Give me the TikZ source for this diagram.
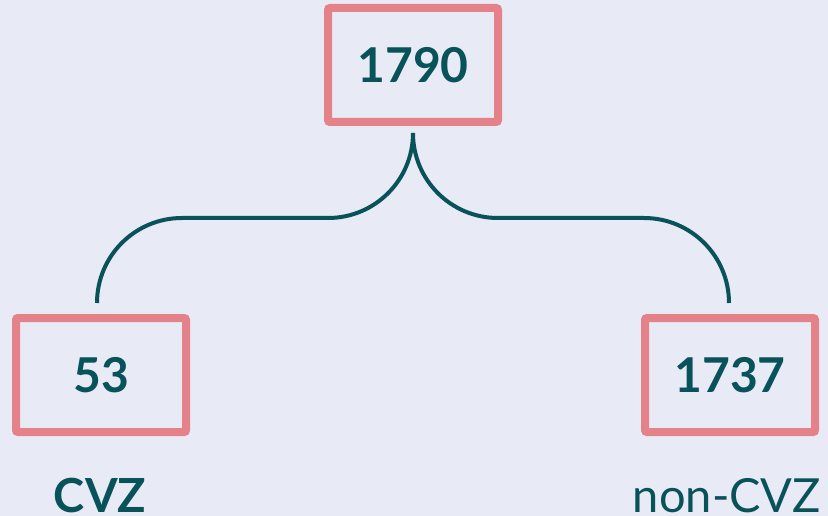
\documentclass[tikz,border=0pt]{standalone}
\usepackage{fontspec}
\setmainfont{Lato}
\usetikzlibrary{calc}
\definecolor{bgc}{RGB}{232,234,246}
\definecolor{pinkc}{RGB}{229,130,137}
\definecolor{tealc}{RGB}{8,82,89}
\begin{document}
\begin{tikzpicture}[x=1pt,y=-1pt,
  numbox/.style={draw=pinkc,line width=8pt,rounded corners=2pt,minimum width=170pt,minimum height=114pt,inner sep=0pt,text=tealc,font=\fontsize{48}{58}\selectfont\bfseries},
  lbl/.style={text=tealc,anchor=base,inner sep=0pt,font=\fontsize{47}{56}\selectfont},
  brace/.style={draw=tealc,line width=4pt}]
\fill[bgc] (0,0) rectangle (828,516);
\useasboundingbox (0,0) rectangle (828,516);
\node[numbox] (top) at (413,65) {1790};
\node[numbox] (l) at (101,375) {53};
\node[numbox] (r) at (730,375) {1737};
\node[lbl,font=\fontsize{47}{56}\selectfont\bfseries] (cvz) at (100,512) {CVZ};
\node[lbl] (ncvz) at (727,512) {non-CVZ};
\coordinate (tip) at ($(top.south)+(0,7)$);
\coordinate (lleg) at ($(l.north)+(-4,-11)$);
\coordinate (rleg) at ($(r.north)+(-1,-11)$);
\path[brace] (lleg) .. controls ($(lleg)+(0,-47)$) and ($(lleg)+(38,-85)$) .. ($(lleg)+(85,-85)$)
  -- ($(tip)+(-85,85)$) .. controls ($(tip)+(-38,85)$) and ($(tip)+(0,47)$) .. (tip)
  .. controls ($(tip)+(0,47)$) and ($(tip)+(38,85)$) .. ($(tip)+(85,85)$)
  -- ($(rleg)+(-85,-85)$) .. controls ($(rleg)+(-38,-85)$) and ($(rleg)+(0,-47)$) .. (rleg);
\end{tikzpicture}
\end{document}
